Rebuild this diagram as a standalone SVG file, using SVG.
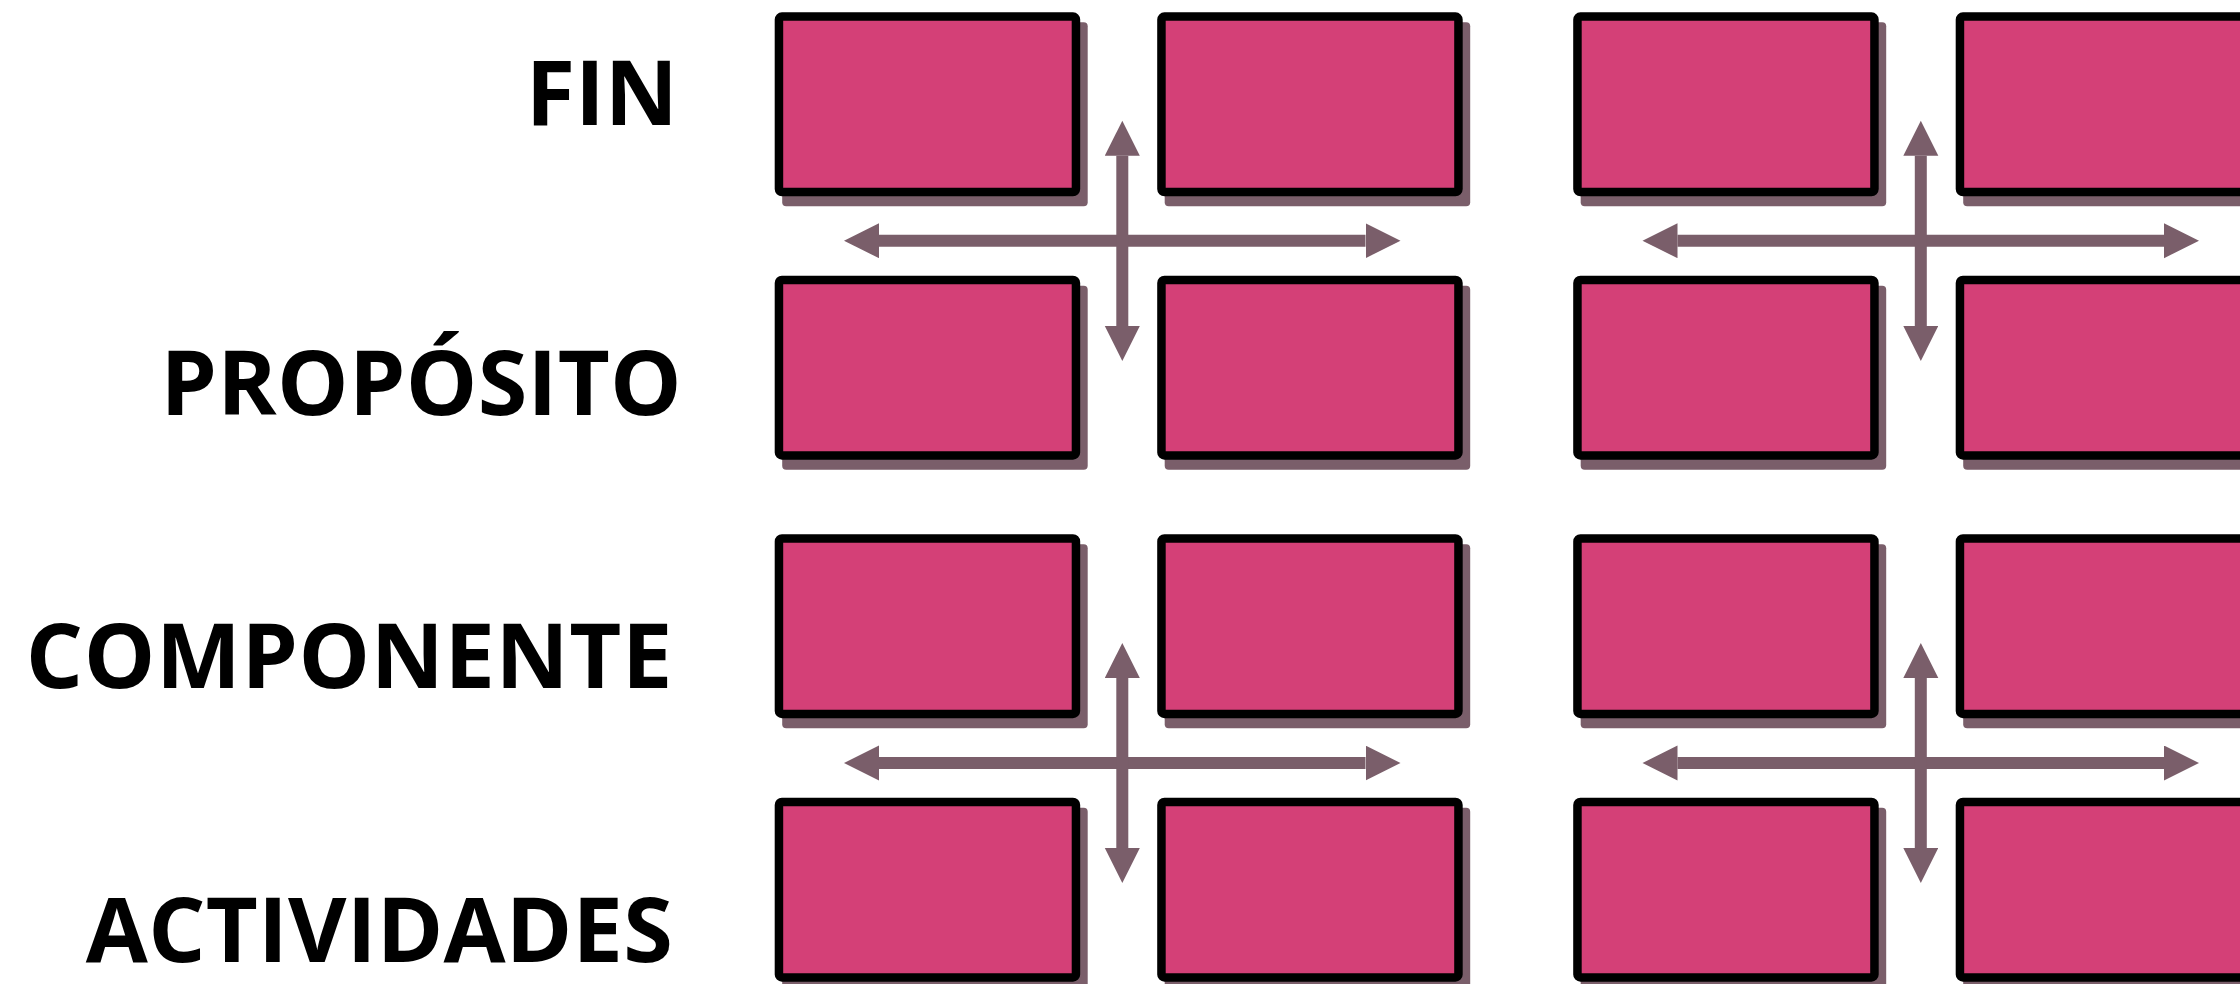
<svg xmlns="http://www.w3.org/2000/svg" width="2240" height="984" viewBox="0 0 2240 984">
<defs>
<style>
.sh{fill:#7a5e6a;}
.bx{fill:#d44077;stroke:#000;stroke-width:8.5;stroke-linejoin:round;}
.lbl{font-family:"Open Sans","Liberation Sans",sans-serif;font-weight:700;font-size:90px;fill:#000;text-anchor:end;}
.ar{stroke:#7a5e6a;stroke-width:12;fill:none;marker-start:url(#hd);marker-end:url(#hd);}
</style>
<marker id="hd" markerUnits="userSpaceOnUse" markerWidth="36" markerHeight="36" refX="0" refY="17.5" orient="auto-start-reverse" viewBox="0 0 36 36">
<path d="M0,0 L35,17.5 L0,35 z" fill="#7a5e6a"/>
</marker>
<g id="cell">
<rect class="sh" x="7.5" y="10" width="305.5" height="184" rx="4"/>
<rect class="bx" x="4.25" y="4.25" width="297" height="175.5" rx="3"/>
</g>
</defs>
<rect width="2240" height="984" fill="#fff"/>
<g id="labels">
<text class="lbl" x="678" y="125">FIN</text>
<text class="lbl" x="682" y="415" letter-spacing="0.3">PROPÓSITO</text>
<text class="lbl" x="673" y="688" letter-spacing="0.6">COMPONENTE</text>
<text class="lbl" x="673" y="962" letter-spacing="0.2">ACTIVIDADES</text>
</g>
<g id="n-g1-r1-a"><use href="#cell" x="774.7" y="12.3"/></g>
<g id="n-g1-r1-b"><use href="#cell" x="1157.2" y="12.3"/></g>
<g id="n-g1-r2-a"><use href="#cell" x="774.7" y="275.7"/></g>
<g id="n-g1-r2-b"><use href="#cell" x="1157.2" y="275.7"/></g>
<g id="n-g1-r3-a"><use href="#cell" x="774.7" y="534.2"/></g>
<g id="n-g1-r3-b"><use href="#cell" x="1157.2" y="534.2"/></g>
<g id="n-g1-r4-a"><use href="#cell" x="774.7" y="797.7"/></g>
<g id="n-g1-r4-b"><use href="#cell" x="1157.2" y="797.7"/></g>
<g id="n-g2-r1-a"><use href="#cell" x="1573.2" y="12.3"/></g>
<g id="n-g2-r1-b"><use href="#cell" x="1955.7" y="12.3"/></g>
<g id="n-g2-r2-a"><use href="#cell" x="1573.2" y="275.7"/></g>
<g id="n-g2-r2-b"><use href="#cell" x="1955.7" y="275.7"/></g>
<g id="n-g2-r3-a"><use href="#cell" x="1573.2" y="534.2"/></g>
<g id="n-g2-r3-b"><use href="#cell" x="1955.7" y="534.2"/></g>
<g id="n-g2-r4-a"><use href="#cell" x="1573.2" y="797.7"/></g>
<g id="n-g2-r4-b"><use href="#cell" x="1955.7" y="797.7"/></g>
<g id="connectors">
<line class="ar" x1="879" y1="240.7" x2="1365.5" y2="240.7"/>
<line class="ar" x1="1122.3" y1="155.7" x2="1122.3" y2="326"/>
<line class="ar" x1="879" y1="763" x2="1365.5" y2="763"/>
<line class="ar" x1="1122.3" y1="678" x2="1122.3" y2="848"/>
<line class="ar" x1="1677.5" y1="240.7" x2="2164" y2="240.7"/>
<line class="ar" x1="1920.8" y1="155.7" x2="1920.8" y2="326"/>
<line class="ar" x1="1677.5" y1="763" x2="2164" y2="763"/>
<line class="ar" x1="1920.8" y1="678" x2="1920.8" y2="848"/>
</g>
</svg>
